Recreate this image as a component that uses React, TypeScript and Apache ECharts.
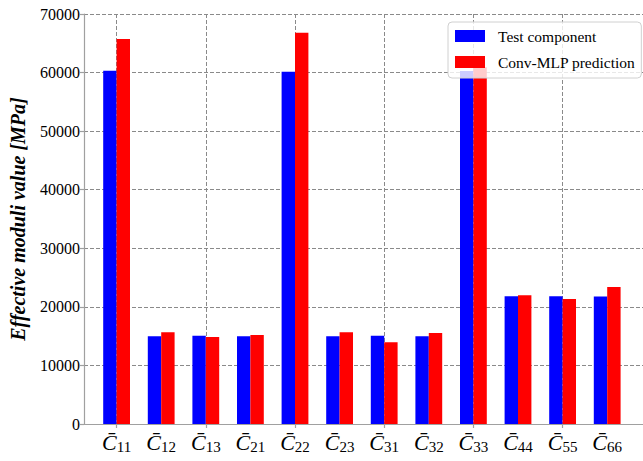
import React, { useEffect, useRef } from "react";
import * as echarts from "echarts";

const categories = ["11", "12", "13", "21", "22", "23", "31", "32", "33", "44", "55", "66"];
const testComponent = [60300, 15000, 15080, 15000, 60150, 15000, 15080, 15000, 60250, 21800, 21800, 21750];
const convMlp = [65750, 15650, 14850, 15200, 66800, 15650, 13950, 15550, 60900, 22000, 21350, 23400];
const yTicks = { min: 0, max: 70000, interval: 10000 };
const seriesNames = ["Test component", "Conv-MLP prediction"];

const SERIF = "'Liberation Serif', 'Times New Roman', serif";
const GRID_COLOR = "#8a8a8a";
const AXIS_COLOR = "#a0a0a0";

export default function App() {
  const ref = useRef<HTMLDivElement>(null);
  useEffect(() => {
    if (!ref.current) return;
    const chart = echarts.init(ref.current, undefined, { renderer: "svg" });
    const even = (i: number) => i % 2 === 0;
    const option: any = {
      animation: false,
      backgroundColor: "#ffffff",
      grid: [
        { left: 77, right: 0, top: 14, bottom: 37 },
        { left: 116.6, right: 35.8, top: 14, bottom: 37 },
      ],
      xAxis: [
        {
          type: "value",
          gridIndex: 0,
          min: 0,
          max: 1,
          axisLine: { show: true, onZero: false, lineStyle: { color: AXIS_COLOR, width: 1.2 } },
          axisTick: { show: false },
          axisLabel: { show: false },
          splitLine: { show: false },
        },
        {
          type: "category",
          gridIndex: 1,
          data: categories,
          boundaryGap: false,
          axisLine: { show: false },
          axisTick: {
            show: true,
            interval: even,
            length: 4,
            inside: false,
            lineStyle: { color: AXIS_COLOR, width: 1.2 },
          },
          splitLine: {
            show: true,
            interval: even,
            lineStyle: { color: GRID_COLOR, type: [4, 2], width: 1 },
          },
          axisLabel: {
            interval: 0,
            margin: 6,
            formatter: (v: string) => `{c|C\u0304}{s|${v}}`,
            rich: {
              c: { fontFamily: SERIF, fontStyle: "italic", fontSize: 22, color: "#000", lineHeight: 24 },
              s: { fontFamily: SERIF, fontSize: 15, color: "#000", padding: [9, 0, 0, 0], lineHeight: 24 },
            },
          },
        },
      ],
      yAxis: [
        {
          type: "value",
          gridIndex: 0,
          min: yTicks.min,
          max: yTicks.max,
          interval: yTicks.interval,
          name: "Effective moduli value [MPa]",
          nameLocation: "middle",
          nameGap: 56,
          nameTextStyle: {
            fontFamily: SERIF,
            fontStyle: "italic",
            fontWeight: "bold",
            fontSize: 20,
            color: "#000",
          },
          axisLine: { show: true, lineStyle: { color: AXIS_COLOR, width: 1.2 } },
          axisTick: { show: true, length: 4, lineStyle: { color: AXIS_COLOR, width: 1.2 } },
          axisLabel: {
            fontFamily: SERIF,
            fontSize: 16,
            color: "#000",
            margin: 4,
            formatter: (v: number) => String(v),
          },
          splitLine: { show: true, lineStyle: { color: GRID_COLOR, type: [4, 2], width: 1 } },
        },
        {
          type: "value",
          gridIndex: 1,
          min: yTicks.min,
          max: yTicks.max,
          interval: yTicks.interval,
          show: false,
          splitLine: { show: false },
        },
      ],
      legend: {
        orient: "vertical",
        left: 448,
        top: 22,
        padding: [6, 6, 8, 7],
        itemGap: 10,
        itemWidth: 30,
        itemHeight: 12,
        icon: "rect",
        backgroundColor: "rgba(255,255,255,0.8)",
        borderColor: "#d0d0d0",
        borderWidth: 1,
        borderRadius: 4,
        textStyle: { fontFamily: SERIF, fontSize: 15.5, color: "#000", padding: [0, 0, 0, 8] },
        data: seriesNames,
        z: 10,
      },
      series: [
        {
          name: seriesNames[0],
          type: "bar",
          xAxisIndex: 1,
          yAxisIndex: 1,
          data: testComponent,
          barWidth: 13.4,
          barGap: "0%",
          clip: false,
          itemStyle: { color: "#0000ff" },
        },
        {
          name: seriesNames[1],
          type: "bar",
          xAxisIndex: 1,
          yAxisIndex: 1,
          data: convMlp,
          barWidth: 13.4,
          barGap: "0%",
          clip: false,
          itemStyle: { color: "#ff0000" },
        },
      ],
    };
    chart.setOption(option);
    return () => chart.dispose();
  }, []);
  return (
    <div
      ref={ref}
      style={{ position: "absolute", left: 0, top: 0, width: 643, height: 461 }}
    />
  );
}
